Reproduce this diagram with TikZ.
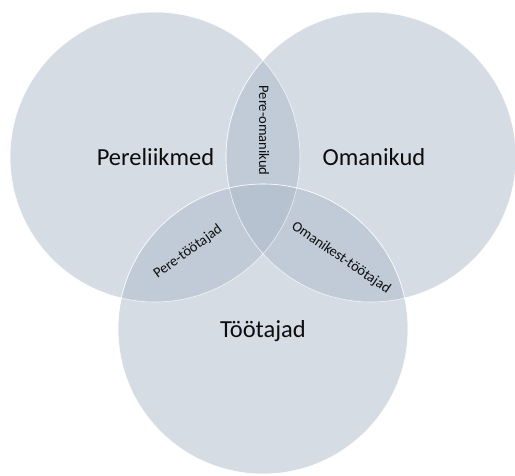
\documentclass[tikz,border=0pt]{standalone}
\usepackage{fontspec}
\setmainfont{Carlito}
\definecolor{setfill}{HTML}{ADB9CA}
\definecolor{labeltext}{HTML}{0D0D0D}
\begin{document}
\begin{tikzpicture}[x=1pt,y=-1pt,
  setcircle/.style={fill=setfill,fill opacity=0.5,draw=white,draw opacity=0.7,line width=0.6pt},
  biglabel/.style={text=labeltext,font=\fontsize{24.5}{28}\selectfont,inner sep=0pt,anchor=base},
  smalllabel/.style={text=labeltext,font=\fontsize{14.5}{17}\selectfont,inner sep=0pt}]
  \useasboundingbox (0,0) rectangle (515,475);
  % the three sets
  \coordinate (cfam) at (155,157);
  \coordinate (cown) at (371,157);
  \coordinate (cemp) at (263,329);
  \fill[setcircle] (cfam) circle[radius=145];
  \fill[setcircle] (cown) circle[radius=145];
  \fill[setcircle] (cemp) circle[radius=145];
  \draw[setcircle,fill=none] (cfam) circle[radius=145];
  \draw[setcircle,fill=none] (cown) circle[radius=145];
  \draw[setcircle,fill=none] (cemp) circle[radius=145];
  % set names
  \node[biglabel] (fam) at (155.5,165.5) {Pereliikmed};
  \node[biglabel] (own) at (374,165.5) {Omanikud};
  \node[biglabel] (emp) at (263,337.5) {Töötajad};
  % pairwise overlaps
  \node[smalllabel,rotate=-90] (famown) at (264,130.5) {Pere-omanikud};
  \node[smalllabel,rotate=36] (famemp) at (188,252) {Pere-töötajad};
  \node[smalllabel,rotate=-34.5] (ownemp) at (341,258) {Omanikest-töötajad};
\end{tikzpicture}
\end{document}
